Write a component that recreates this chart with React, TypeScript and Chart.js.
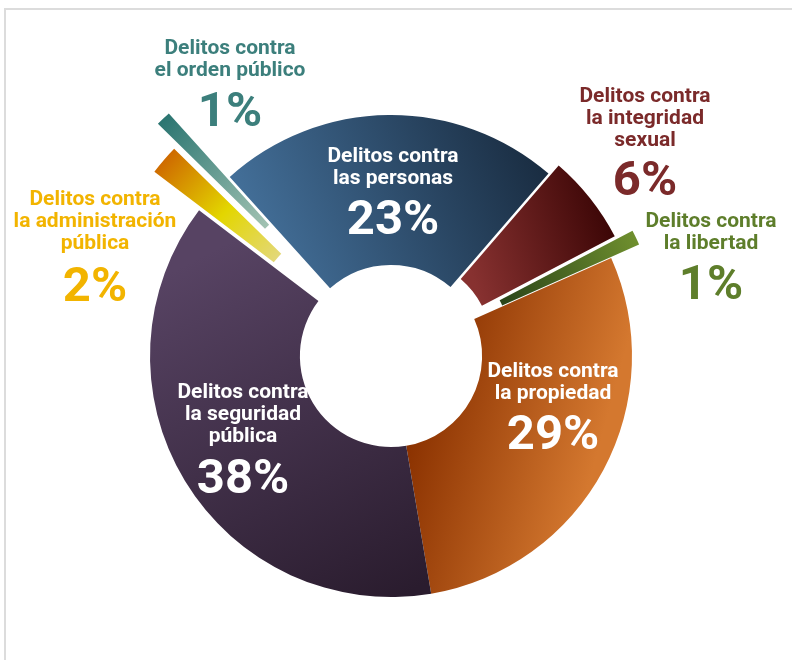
import React, { useEffect, useRef } from 'react';
import { Chart, registerables, DoughnutController } from 'chart.js';

Chart.register(...registerables);

// ---- data ----
const CATEGORIES = [
  'Delitos contra las personas',
  'Delitos contra la integridad sexual',
  'Delitos contra la libertad',
  'Delitos contra la propiedad',
  'Delitos contra la seguridad pública',
  'Delitos contra la administración pública',
  'Delitos contra el orden público',
];
const LABEL_LINES = [
  ['Delitos contra', 'las personas'],
  ['Delitos contra', 'la integridad', 'sexual'],
  ['Delitos contra', 'la libertad'],
  ['Delitos contra', 'la propiedad'],
  ['Delitos contra', 'la seguridad', 'pública'],
  ['Delitos contra', 'la administración', 'pública'],
  ['Delitos contra', 'el orden público'],
];
const VALUES = [23, 6, 1, 29, 38, 2, 1];
const PERCENT_LABELS = ['23%', '6%', '1%', '29%', '38%', '2%', '1%'];

// ---- styles ----
const ROTATION = -42;
const RADIUS = 241;
const CUTOUT = '37.8%';
const EXPLODE = [0, 13, 31, 0, 0, 59, 88]; // pixel shift of each slice along its mid-angle
const TEXT_COLORS = ['#ffffff', '#7b2a2a', '#5e7e2b', '#ffffff', '#ffffff', '#f2b400', '#3c7f7c'];
// [x, firstLineY, percentY] relative to chart centre
const LABEL_POS = [
  [2, -199, -134],
  [254, -259, -173],
  [320, -134, -69],
  [162, 16, 81],
  [-148, 37, 125],
  [-296, -156, -67],
  [-161, -307, -242],
];
const FALLBACK = ['#3d6890', '#6e2626', '#4d6a25', '#b8581c', '#43324e', '#e0c000', '#5a9a94'];
const GRADIENTS: { from: number[]; to: number[]; stops: [number, string][] }[] = [
  { from: [-160, -60], to: [160, -200], stops: [[0, '#4a7aa7'], [1, '#182a3e']] },
  { from: [75, -100], to: [220, -145], stops: [[0, '#873130'], [1, '#3a0505']] },
  { from: [111, -54], to: [246, -116], stops: [[0, '#2a4519'], [1, '#6f8f2e']] },
  { from: [20, 70], to: [200, 120], stops: [[0, '#8a3100'], [1, '#d4782f']] },
  { from: [-150, -120], to: [30, 230], stops: [[0, '#574363'], [1, '#2a1c2e']] },
  { from: [-226, -204], to: [-114, -98], stops: [[0, '#cd6400'], [0.55, '#e3d600'], [1, '#e3d878']] },
  { from: [-231, -234], to: [-123, -129], stops: [[0, '#2b7571'], [1, '#a3c3b3']] },
];
const FONT = 'Roboto, "Liberation Sans", Arial, sans-serif';
const SMALL_FONT = 21;
const BIG_FONT = 49;
const LINE_H = 22;

class ExplodedDoughnutController extends (DoughnutController as any) {
  static id = 'explodedDoughnut';
  static defaults = { ...(DoughnutController as any).defaults };
  static overrides = (DoughnutController as any).overrides;
  static descriptors = (DoughnutController as any).descriptors;
  draw() {
    const self: any = this;
    const chart = self.chart;
    const ctx = chart.ctx;
    const meta = self._cachedMeta;
    const explode: number[] = self.getDataset().explode || [];
    meta.data.forEach((arc: any, i: number) => {
      const d = explode[i] || 0;
      const a = (arc.startAngle + arc.endAngle) / 2;
      ctx.save();
      ctx.translate(Math.cos(a) * d, Math.sin(a) * d);
      arc.draw(ctx, chart.chartArea);
      ctx.restore();
    });
  }
}
Chart.register(ExplodedDoughnutController as any);

function midAngle(i: number) {
  const total = VALUES.reduce((a, b) => a + b, 0);
  let start = (ROTATION * Math.PI) / 180 - Math.PI / 2;
  for (let k = 0; k < i; k++) start += (VALUES[k] / total) * Math.PI * 2;
  return start + (VALUES[i] / total) * Math.PI;
}

function makeColor(c: any) {
  const i = c.dataIndex;
  const chart = c.chart;
  if (i === undefined || !chart.chartArea) return FALLBACK[i ?? 0];
  const area = chart.chartArea;
  const cx = (area.left + area.right) / 2;
  const cy = (area.top + area.bottom) / 2;
  const a = midAngle(i);
  const t = EXPLODE[i];
  const tx = Math.cos(a) * t;
  const ty = Math.sin(a) * t;
  const g = GRADIENTS[i];
  const grad = chart.ctx.createLinearGradient(
    cx + g.from[0] - tx, cy + g.from[1] - ty,
    cx + g.to[0] - tx, cy + g.to[1] - ty
  );
  g.stops.forEach(([p, col]) => grad.addColorStop(p, col));
  return grad;
}

const labelPlugin = {
  id: 'sliceLabels',
  afterDraw(chart: any) {
    const { ctx, chartArea } = chart;
    const cx = (chartArea.left + chartArea.right) / 2;
    const cy = (chartArea.top + chartArea.bottom) / 2;
    ctx.save();
    ctx.textAlign = 'center';
    ctx.textBaseline = 'middle';
    LABEL_LINES.forEach((lines, i) => {
      const [x, y0, py] = LABEL_POS[i];
      ctx.fillStyle = TEXT_COLORS[i];
      ctx.font = `bold ${SMALL_FONT}px ${FONT}`;
      lines.forEach((ln, k) => {
        ctx.fillText(ln, cx + x, cy + y0 + k * LINE_H);
      });
      ctx.font = `bold ${BIG_FONT}px ${FONT}`;
      ctx.fillText(PERCENT_LABELS[i], cx + x, cy + py);
    });
    ctx.restore();
  },
};

export default function App() {
  const ref = useRef<HTMLCanvasElement>(null);
  useEffect(() => {
    if (!ref.current) return;
    const chart = new Chart(ref.current, {
      type: 'explodedDoughnut' as any,
      data: {
        labels: CATEGORIES,
        datasets: [
          {
            data: VALUES,
            backgroundColor: makeColor as any,
            borderWidth: 0,
            explode: EXPLODE,
          } as any,
        ],
      },
      options: {
        responsive: false,
        animation: false,
        events: [],
        rotation: ROTATION,
        radius: RADIUS,
        cutout: CUTOUT,
        layout: { padding: { left: 0, right: 10, top: 52, bottom: 0 } },
        plugins: { legend: { display: false }, tooltip: { enabled: false } },
      } as any,
      plugins: [labelPlugin],
    });
    return () => chart.destroy();
  }, []);

  return (
    <div style={{ position: 'fixed', left: 0, top: 0, width: 792, height: 660, overflow: 'hidden', background: '#fff' }}>
      <div
        style={{
          position: 'absolute',
          left: 4,
          top: 8,
          width: 900,
          height: 800,
          borderTop: '2px solid #dcdcdc',
          borderLeft: '2px solid #dcdcdc',
        }}
      />
      <canvas ref={ref} width={792} height={660} style={{ position: 'absolute', left: 0, top: 0, width: 792, height: 660 }} />
    </div>
  );
}
